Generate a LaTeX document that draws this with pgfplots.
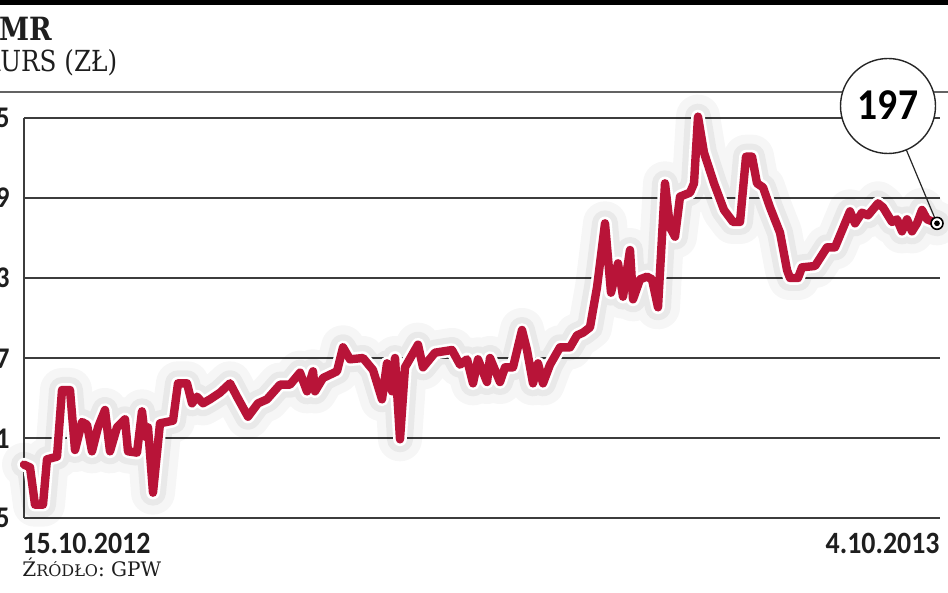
\documentclass[border=0pt]{standalone}
\usepackage{fontspec}
\usepackage{pgfplots}
\usepackage{pgfplotstable}
\pgfplotsset{compat=1.18}
\setmainfont{Carlito}
\newfontfamily\lab[FakeStretch=0.9]{Carlito}
\newfontfamily\slab[FakeStretch=0.85]{DejaVu Serif}
\newfontfamily\slabw{DejaVu Serif}
\definecolor{kurs}{RGB}{184,20,56}
\definecolor{gridc}{RGB}{60,60,60}
\definecolor{txt}{RGB}{30,30,30}

\pgfplotstableread{
x y
0 179.0
6 178.8
11 176.0
19 176.0
23 179.4
33 179.6
38 184.6
46 184.6
51 180.1
58 182.2
63 182.0
68 180.0
74 181.8
81 183.1
86 180.0
93 181.8
101 182.4
104 180.0
113 179.9
118 183.0
121 181.1
124 181.8
129 176.9
136 182.1
149 182.3
154 185.1
163 185.1
168 183.6
173 184.1
179 183.6
186 183.9
196 184.4
206 185.1
213 184.1
224 182.6
234 183.6
243 183.9
256 185.0
266 185.0
276 185.9
283 184.5
289 186.0
291 184.5
299 185.5
313 186.0
319 187.8
326 186.9
339 187.0
349 186.1
358 183.9
363 186.6
368 184.5
371 187.0
376 180.9
381 186.3
394 188.0
399 186.3
411 187.4
428 187.6
436 186.5
443 186.9
449 185.1
454 186.9
463 185.2
466 187.0
476 185.2
481 186.3
489 186.3
498 189.1
503 187.6
509 185.1
514 186.6
519 185.1
526 186.5
536 187.8
546 187.8
553 188.7
559 188.9
566 189.3
569 190.6
573 192.3
581 197.1
587 191.9
594 194.1
599 191.6
606 195.1
609 191.4
616 192.9
623 193.1
628 192.9
634 190.8
641 200.1
646 196.8
651 196.1
656 199.1
666 199.4
670 200.1
674 205.1
680 202.4
690 200.1
700 198.1
709 197.2
716 197.2
722 202.1
728 202.1
733 200.1
739 199.8
746 198.3
756 196.4
763 193.6
766 193.0
774 193.0
778 193.8
791 193.9
803 195.3
811 195.3
821 197.1
826 198.0
831 197.1
838 197.9
844 197.7
854 198.6
859 198.3
868 197.2
873 197.4
878 196.5
883 197.4
888 196.5
893 197.1
898 198.1
903 197.4
913 197.1
}\kursdata

\begin{document}
\begin{tikzpicture}
\path[use as bounding box] (0,0) rectangle (474pt,296.5pt);
\begin{scope}
\clip (0,0) rectangle (474pt,296.5pt);
% top bar and rule
\fill[black] (0,294pt) rectangle (474pt,296.5pt);
\draw[gridc!80, line width=1pt] (0,250.5pt) -- (474pt,250.5pt);
% titles
\node[anchor=base west, inner sep=0, text=txt] at (-0.5pt,276pt) {\slab\bfseries\fontsize{16}{16}\selectfont MR};
\node[anchor=base west, inner sep=0, text=txt] at (0pt,260.5pt) {\slab\fontsize{14.5}{14.5}\selectfont\llap{K}URS (ZŁ)};
% source
\node[anchor=base west, inner sep=0, text=txt] at (11pt,8pt) {\slabw\fontsize{10}{10}\selectfont Ź{\fontsize{8}{8}\selectfont RÓDŁO}: GPW};

\begin{axis}[
  at={(12pt,37.5pt)}, anchor=south west,
  scale only axis, width=458pt, height=200pt,
  xmin=0, xmax=916, ymin=175, ymax=205,
  ytick={175,181,187,193,199,205},
  xtick=\empty,
  ymajorgrids,
  major grid style={gridc, line width=0.75pt},
  axis x line=bottom, axis y line=left,
  axis line style={-, gridc, line width=0.75pt},
  major tick length=0pt,
  /pgf/number format/assume math mode=true,
  yticklabel style={anchor=east, inner sep=0pt, xshift=-7pt,
    font={\lab\bfseries\fontsize{15}{15}\selectfont}, text=txt},
  clip=false,
]
% soft shadow, halo and line
\addplot[black, opacity=0.035, line width=22pt, line join=round, line cap=round] table {\kursdata};
\addplot[black, opacity=0.05, line width=13pt, line join=round, line cap=round] table {\kursdata};
\addplot[white, line width=6.8pt, line join=round, line cap=round] table {\kursdata};
\addplot[kurs, line width=4.2pt, line join=round, line cap=round] table {\kursdata};
% annotation
\draw[black!85, line width=0.6pt] (axis cs:913,197.1) -- (axis cs:864,205.9);
\node[circle, draw=black!85, line width=0.7pt, fill=white, minimum size=47.5pt, inner sep=0pt, text=black]
  at (axis cs:864,205.9) {\raisebox{1pt}{\lab\bfseries\fontsize{22}{22}\selectfont 197}};
\addplot[only marks, mark=*, mark size=3pt, mark options={fill=white, draw=black, line width=0.8pt}] coordinates {(913,197.1)};
\addplot[only marks, mark=*, mark size=1.2pt, black] coordinates {(913,197.1)};
% date labels
\node[anchor=north west, inner sep=0pt, text=txt, font={\lab\bfseries\fontsize{15.5}{15.5}\selectfont}]
  at (rel axis cs:0,0) [xshift=-1pt, yshift=-7.5pt] {15.10.2012};
\node[anchor=north east, inner sep=0pt, text=txt, font={\lab\bfseries\fontsize{15.5}{15.5}\selectfont}]
  at (rel axis cs:1,0) [yshift=-7.5pt] {4.10.2013};
\end{axis}
\end{scope}
\end{tikzpicture}
\end{document}
